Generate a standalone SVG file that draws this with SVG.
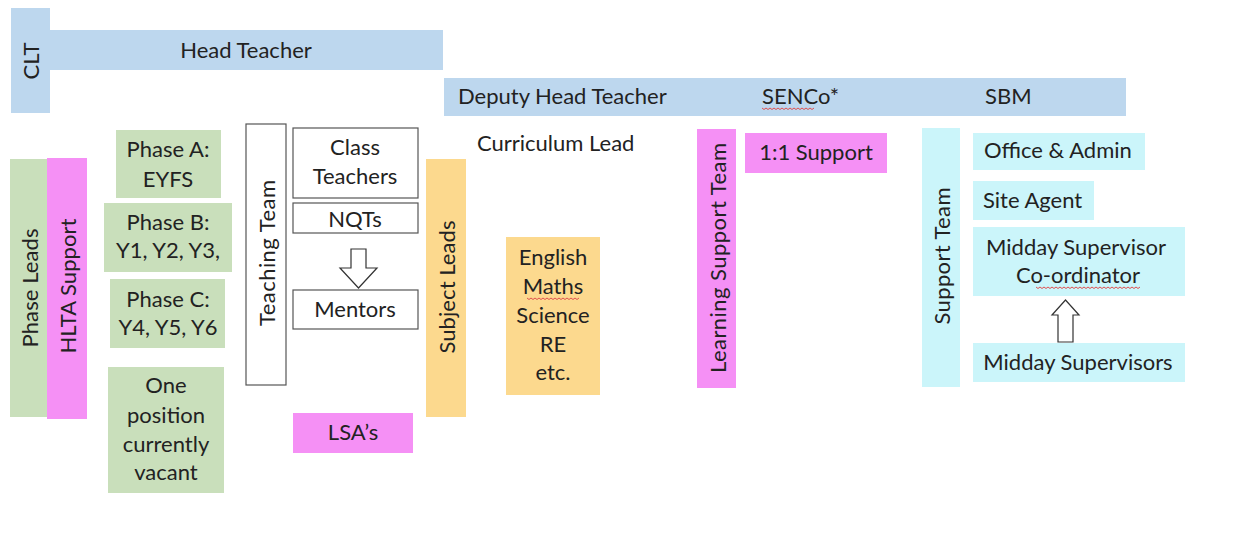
<svg xmlns="http://www.w3.org/2000/svg" width="1244" height="560" viewBox="0 0 1244 560">
<style>
text{font-family:Lato,"Open Sans","Liberation Sans",sans-serif;font-size:22px;fill:#222}
.c{text-anchor:middle}
.v{text-anchor:middle;dominant-baseline:central}
.blue{fill:#bdd7ee}
.green{fill:#c9dfbb}
.pink{fill:#f590f5}
.yellow{fill:#fcd98e}
.cyan{fill:#cbf5fa}
.white{fill:#fff;stroke:#555;stroke-width:1.2}
.squig{fill:none;stroke:#e05050;stroke-width:1}
.arrow{fill:#fff;stroke:#333;stroke-width:1.2}
</style>
<rect width="1244" height="560" fill="#fff"/>

<g id="clt">
<rect class="blue" x="11" y="8" width="39" height="105"/>
<text class="v" transform="translate(30,61) rotate(-90)">CLT</text>
</g>
<g id="head-teacher">
<rect class="blue" x="50" y="30" width="393" height="40"/>
<text class="c" x="246" y="58">Head Teacher</text>
</g>
<g id="deputy-bar">
<rect class="blue" x="444" y="78" width="682" height="38"/>
<text x="458" y="104">Deputy Head Teacher</text>
<text x="762" y="104">SENCo*</text>
<path class="squig" d="M762 108 l2 1.5 l2 -1.5 l2 1.5 l2 -1.5 l2 1.5 l2 -1.5 l2 1.5 l2 -1.5 l2 1.5 l2 -1.5 l2 1.5 l2 -1.5 l2 1.5 l2 -1.5 l2 1.5 l2 -1.5 l2 1.5 l2 -1.5 l2 1.5 l2 -1.5 l2 1.5 l2 -1.5 l2 1.5 l2 -1.5 l2 1.5 l2 -1.5"/>
<text x="985" y="104">SBM</text>
</g>

<g id="phase-leads">
<rect class="green" x="10" y="159" width="37" height="258"/>
<text class="v" transform="translate(29,288) rotate(-90)" textLength="119" lengthAdjust="spacing">Phase Leads</text>
</g>
<g id="hlta-support">
<rect class="pink" x="47" y="158" width="40" height="261"/>
<text class="v" transform="translate(67,286) rotate(-90)" textLength="135" lengthAdjust="spacing">HLTA Support</text>
</g>
<g id="phase-a">
<rect class="green" x="116" y="130" width="105" height="68"/>
<text class="c" x="168" y="157">Phase A:</text>
<text class="c" x="168" y="187">EYFS</text>
</g>
<g id="phase-b">
<rect class="green" x="104" y="203" width="128" height="69"/>
<text class="c" x="168" y="230">Phase B:</text>
<text class="c" x="168" y="258">Y1, Y2, Y3,</text>
</g>
<g id="phase-c">
<rect class="green" x="110" y="279" width="115" height="69"/>
<text class="c" x="168" y="307">Phase C:</text>
<text class="c" x="168" y="335">Y4, Y5, Y6</text>
</g>
<g id="vacant">
<rect class="green" x="108" y="367" width="116" height="126"/>
<text class="c" x="166" y="393">One</text>
<text class="c" x="166" y="423">position</text>
<text class="c" x="166" y="452">currently</text>
<text class="c" x="166" y="480">vacant</text>
</g>

<g id="teaching-team">
<rect class="white" x="246" y="124" width="40" height="261"/>
<text class="v" transform="translate(266,253) rotate(-90)" textLength="146" lengthAdjust="spacing">Teaching Team</text>
</g>
<g id="class-teachers">
<rect class="white" x="293" y="128" width="125" height="70"/>
<text class="c" x="355" y="155">Class</text>
<text class="c" x="355" y="184">Teachers</text>
</g>
<g id="nqts">
<rect class="white" x="293" y="203" width="125" height="30"/>
<text class="c" x="355" y="227">NQTs</text>
</g>
<g id="mentors">
<rect class="white" x="293" y="290" width="125" height="39"/>
<text class="c" x="355" y="317">Mentors</text>
</g>
<g id="lsas">
<rect class="pink" x="293" y="413" width="120" height="40"/>
<text class="c" x="353" y="440">LSA’s</text>
</g>

<g id="subject-leads">
<rect class="yellow" x="426" y="159" width="40" height="258"/>
<text class="v" transform="translate(446,287) rotate(-90)" textLength="133" lengthAdjust="spacing">Subject Leads</text>
</g>
<g id="curriculum-lead">
<text x="477" y="151">Curriculum Lead</text>
</g>
<g id="subjects">
<rect class="yellow" x="506" y="237" width="94" height="158"/>
<text class="c" x="553" y="265">English</text>
<text class="c" x="553" y="294">Maths</text>
<path class="squig" d="M527 298 l2 1.5 l2 -1.5 l2 1.5 l2 -1.5 l2 1.5 l2 -1.5 l2 1.5 l2 -1.5 l2 1.5 l2 -1.5 l2 1.5 l2 -1.5 l2 1.5 l2 -1.5 l2 1.5 l2 -1.5 l2 1.5 l2 -1.5 l2 1.5 l2 -1.5 l2 1.5 l2 -1.5 l2 1.5 l2 -1.5 l2 1.5 l2 -1.5"/>
<text class="c" x="553" y="323">Science</text>
<text class="c" x="553" y="352">RE</text>
<text class="c" x="553" y="380">etc.</text>
</g>

<g id="learning-support-team">
<rect class="pink" x="697" y="129" width="39" height="259"/>
<text class="v" transform="translate(717,258) rotate(-90)" textLength="230" lengthAdjust="spacing">Learning Support Team</text>
</g>
<g id="one-to-one">
<rect class="pink" x="745" y="133" width="142" height="40"/>
<text class="c" x="816" y="160">1:1 Support</text>
</g>

<g id="support-team">
<rect class="cyan" x="922" y="128" width="38" height="259"/>
<text class="v" transform="translate(941,256) rotate(-90)" textLength="137" lengthAdjust="spacing">Support Team</text>
</g>
<g id="office-admin">
<rect class="cyan" x="973" y="133" width="172" height="37"/>
<text x="984" y="158">Office &amp; Admin</text>
</g>
<g id="site-agent">
<rect class="cyan" x="973" y="181" width="121" height="39"/>
<text x="983" y="208">Site Agent</text>
</g>
<g id="midday-coordinator">
<rect class="cyan" x="973" y="227" width="212" height="69"/>
<text class="c" x="1076" y="255">Midday Supervisor</text>
<text class="c" x="1078" y="283">Co-ordinator</text>
<path class="squig" d="M1036 287 l2 1.5 l2 -1.5 l2 1.5 l2 -1.5 l2 1.5 l2 -1.5 l2 1.5 l2 -1.5 l2 1.5 l2 -1.5 l2 1.5 l2 -1.5 l2 1.5 l2 -1.5 l2 1.5 l2 -1.5 l2 1.5 l2 -1.5 l2 1.5 l2 -1.5 l2 1.5 l2 -1.5 l2 1.5 l2 -1.5 l2 1.5 l2 -1.5 l2 1.5 l2 -1.5 l2 1.5 l2 -1.5 l2 1.5 l2 -1.5 l2 1.5 l2 -1.5 l2 1.5 l2 -1.5 l2 1.5 l2 -1.5 l2 1.5 l2 -1.5 l2 1.5 l2 -1.5 l2 1.5 l2 -1.5 l2 1.5 l2 -1.5 l2 1.5 l2 -1.5 l2 1.5 l2 -1.5 l2 1.5 l2 -1.5"/>
</g>
<g id="midday-supervisors">
<rect class="cyan" x="973" y="343" width="212" height="39"/>
<text class="c" x="1078" y="370">Midday Supervisors</text>
</g>

<g id="connectors">
<path class="arrow" d="M351 249 H366 V268 H377 L358.5 288 L340 268 H351 Z"/>
<path class="arrow" d="M1058 342 V315 H1052 L1065.5 300 L1079 315 H1073 V342 Z"/>
</g>
</svg>
